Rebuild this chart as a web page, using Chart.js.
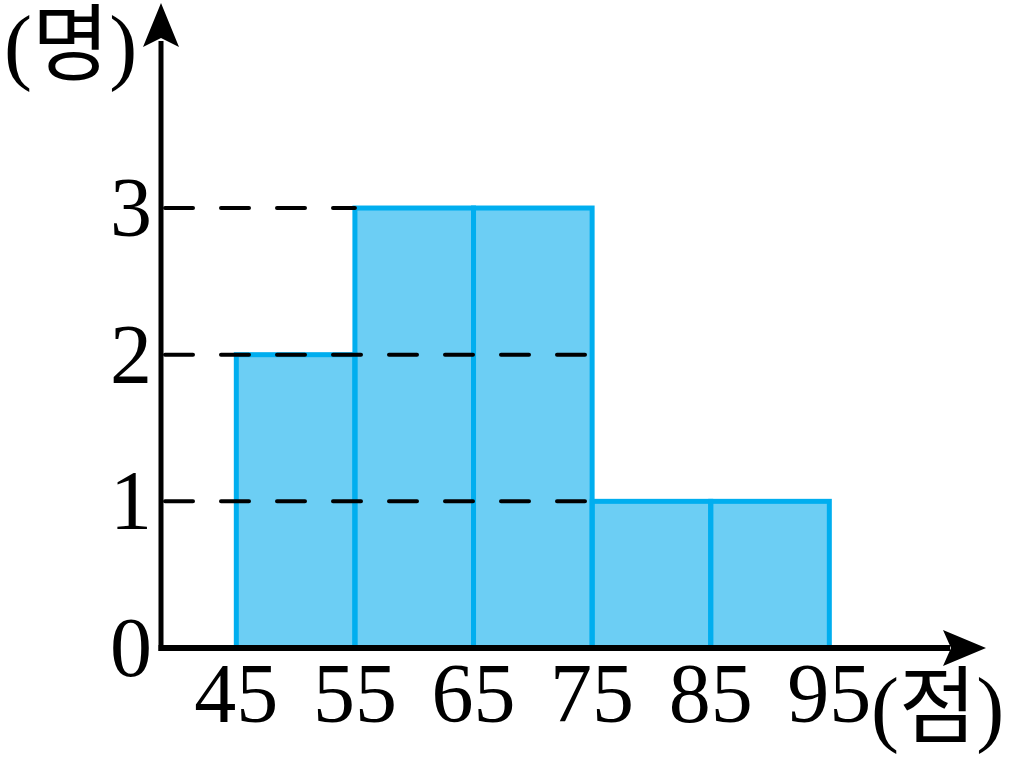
<!DOCTYPE html>
<html>
<head>
<meta charset="utf-8">
<script src="https://cdn.jsdelivr.net/npm/chart.js@4/dist/chart.umd.min.js"></script>
<style>
  body { margin: 0; background: #fff; }
  canvas { display: block; }
</style>
</head>
<body>
<canvas id="grafico" width="1011" height="767"></canvas>
<script>
// classes (start of each 10-point class) and number of students
let inicio_clase = [45, 55, 65, 75, 85];
let cantidad = [2, 3, 3, 1, 1];
let etiquetas_x = [45, 55, 65, 75, 85, 95];
let etiquetas_y = [0, 1, 2, 3];
// dashed guide lines: height and the class value where each one stops
let guia_altura = [3, 2, 1];
let guia_fin = [55, 75, 75];
let unidad_y = '(명)';
let unidad_x = '(점)';

let ancho_clase = 10;
let fuente = '84px "Liberation Serif", "Noto Sans CJK KR", serif';

let grapharea = document.querySelector('#grafico').getContext('2d');

let datos = inicio_clase.map((e, i) => {
    return { x: e + ancho_clase / 2, y: cantidad[i] };
});

const dibujo = {
    id: 'dibujo',
    afterDatasetsDraw(chart) {
        const ctx = chart.ctx;
        const sx = chart.scales.x;
        const sy = chart.scales.y;
        const area = chart.chartArea;
        ctx.save();

        // bar outlines, centred on the class boundaries
        ctx.strokeStyle = '#00AEEF';
        ctx.lineWidth = 5;
        chart.getDatasetMeta(0).data.forEach((bar) => {
            ctx.strokeRect(bar.x - bar.width / 2, bar.y, bar.width, bar.base - bar.y);
        });

        // dashed lines
        ctx.strokeStyle = '#000';
        ctx.lineWidth = 4;
        ctx.lineCap = 'round';
        ctx.setLineDash([28, 28]);
        guia_altura.forEach((h, i) => {
            let py = sy.getPixelForValue(h);
            ctx.beginPath();
            ctx.moveTo(area.left + 4, py);
            ctx.lineTo(sx.getPixelForValue(guia_fin[i]), py);
            ctx.stroke();
        });
        ctx.setLineDash([]);
        ctx.lineCap = 'butt';

        // axes with arrows
        let x0 = area.left;
        let y0 = sy.getPixelForValue(0);
        ctx.fillStyle = '#000';
        ctx.lineWidth = 5;
        ctx.beginPath();
        ctx.moveTo(x0, y0 + 3);
        ctx.lineTo(x0, area.top + 38);
        ctx.stroke();
        ctx.lineWidth = 6;
        ctx.beginPath();
        ctx.moveTo(x0 - 2.5, y0);
        ctx.lineTo(area.right - 36, y0);
        ctx.stroke();

        ctx.beginPath();
        ctx.moveTo(x0, area.top);
        ctx.lineTo(x0 - 18, area.top + 44);
        ctx.lineTo(x0, area.top + 35);
        ctx.lineTo(x0 + 18, area.top + 44);
        ctx.closePath();
        ctx.fill();

        ctx.beginPath();
        ctx.moveTo(area.right, y0);
        ctx.lineTo(area.right - 43, y0 - 18);
        ctx.lineTo(area.right - 35, y0);
        ctx.lineTo(area.right - 43, y0 + 18);
        ctx.closePath();
        ctx.fill();

        // tick labels
        ctx.font = fuente;
        ctx.textBaseline = 'alphabetic';
        ctx.textAlign = 'right';
        etiquetas_y.forEach((v) => {
            ctx.fillText(String(v), x0 - 9, sy.getPixelForValue(v) + 28);
        });
        ctx.textAlign = 'center';
        etiquetas_x.forEach((v) => {
            ctx.fillText(String(v), sx.getPixelForValue(v), y0 + 74);
        });

        // units
        ctx.textAlign = 'left';
        ctx.fillText(unidad_y, 4, 74);
        ctx.fillText(unidad_x, 871, 736);

        ctx.restore();
    }
};

const data = {
    datasets: [{
        label: '학생 수',
        data: datos,
        backgroundColor: '#6CCEF4',
        borderWidth: 0,
        barPercentage: 1,
        categoryPercentage: 1
    }]
};

const config = {
    type: 'bar',
    data: data,
    options: {
        responsive: false,
        animation: false,
        layout: { padding: { left: 161, right: 25, top: 3, bottom: 119 } },
        plugins: { legend: { display: false }, tooltip: { enabled: false } },
        scales: {
            x: {
                type: 'linear',
                offset: false,
                min: 38.65,
                max: 108.21,
                display: false,
                afterBuildTicks: (s) => { s.ticks = etiquetas_x.map((v) => ({ value: v })); }
            },
            y: {
                min: 0,
                max: 4.398,
                display: false,
                afterBuildTicks: (s) => { s.ticks = etiquetas_y.map((v) => ({ value: v })); }
            }
        }
    },
    plugins: [dibujo]
};

let myChart = new Chart(grapharea, config);
</script>
</body>
</html>
